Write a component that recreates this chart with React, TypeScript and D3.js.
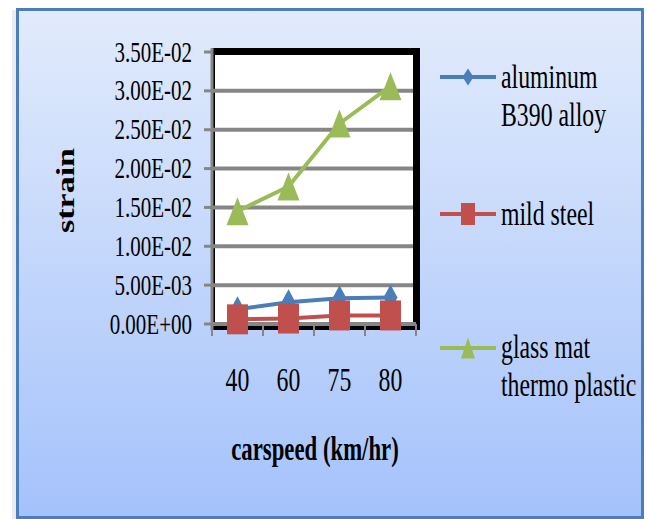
import React from "react";
import * as d3 from "d3";

// Strain measured at each car speed, per bumper material
const categories = ["40", "60", "75", "80"];
const aluminum = [0.0019, 0.0028, 0.0033, 0.0034];
const mildSteel = [0.0006, 0.0007, 0.0011, 0.0011];
const glassMat = [0.0145, 0.0177, 0.0258, 0.0306];
const yTicks = [0, 0.005, 0.01, 0.015, 0.02, 0.025, 0.03, 0.035];

const seriesNames = [["aluminum", "B390 alloy"], ["mild steel"], ["glass mat", "thermo plastic"]];
const xTitle = "carspeed (km/hr)";
const yTitle = "strain";

const BLUE = "#4a7ebb";
const RED = "#c0504d";
const GREEN = "#9bbb59";
const GRID = "#868686";
const FONT = "'Liberation Serif', 'Times New Roman', serif";

const W = 647;
const H = 519;

const fmtExp = (v: number) => {
  const [m, e] = v.toExponential(2).split("e");
  const n = parseInt(e, 10);
  const sign = n < 0 ? "-" : "+";
  return `${m}E${sign}${String(Math.abs(n)).padStart(2, "0")}`;
};

type MarkerKind = "diamond" | "square" | "triangle";

function markerPath(kind: MarkerKind, cx: number, cy: number, w: number, h: number) {
  const hw = w / 2;
  const hh = h / 2;
  if (kind === "diamond") {
    return `M${cx},${cy - hh}L${cx + hw},${cy}L${cx},${cy + hh}L${cx - hw},${cy}Z`;
  }
  if (kind === "square") {
    return `M${cx - hw},${cy - hh}H${cx + hw}V${cy + hh}H${cx - hw}Z`;
  }
  return `M${cx},${cy - hh}L${cx + hw},${cy + hh}L${cx - hw},${cy + hh}Z`;
}

function SText(props: {
  x: number;
  y: number;
  size: number;
  sx?: number;
  anchor?: "start" | "middle" | "end";
  weight?: string | number;
  children: React.ReactNode;
}) {
  const { x, y, size, sx = 0.7, anchor = "start", weight = "normal", children } = props;
  return (
    <text
      transform={`translate(${x},${y}) scale(${sx},1)`}
      fontFamily={FONT}
      fontSize={size}
      fontWeight={weight}
      textAnchor={anchor}
      fill="#000"
    >
      {children}
    </text>
  );
}

export default function App() {
  const plotL = 212;
  const plotR = 416;
  const plotTop = 52;
  const plotBottom = 324;

  const x = d3.scaleBand<string>().domain(categories).range([plotL, plotR]).padding(0);
  const y = d3.scaleLinear().domain([0, 0.035]).range([plotBottom, plotTop]);
  const cx = (c: string) => (x(c) as number) + x.bandwidth() / 2;

  const line = d3
    .line<number>()
    .x((_, i) => cx(categories[i]))
    .y((d) => y(d));

  const series: { values: number[]; color: string; kind: MarkerKind; mw: number; mh: number }[] = [
    { values: aluminum, color: BLUE, kind: "diamond", mw: 14, mh: 26 },
    { values: mildSteel, color: RED, kind: "square", mw: 21, mh: 30 },
    { values: glassMat, color: GREEN, kind: "triangle", mw: 22, mh: 28 },
  ];

  const edges = [...categories.map((c) => x(c) as number), plotR];

  const legendItems = [
    { y: 77, color: BLUE, kind: "diamond" as MarkerKind, mw: 11, mh: 17, lines: seriesNames[0], base: 88 },
    { y: 214, color: RED, kind: "square" as MarkerKind, mw: 14, mh: 22, lines: seriesNames[1], base: 225 },
    { y: 348, color: GREEN, kind: "triangle" as MarkerKind, mw: 14, mh: 21, lines: seriesNames[2], base: 358 },
  ];

  return (
    <svg
      width={W}
      height={H}
      style={{ position: "absolute", left: 0, top: 0, display: "block" }}
    >
      <defs>
        <linearGradient id="bg" x1="0" y1="0" x2="0" y2="1">
          <stop offset="0%" stopColor="#e2ebfc" />
          <stop offset="100%" stopColor="#a4c2fb" />
        </linearGradient>
      </defs>
      <rect x={0} y={0} width={W} height={H} fill="#ffffff" />
      <rect x={12} y={10} width={4} height={509} fill="#ececec" />
      <rect x={17.5} y={9.5} width={625} height={508} fill="url(#bg)" stroke={BLUE} strokeWidth={3} />

      {/* plot frame */}
      <rect x={plotL - 1} y={48} width={209} height={282} fill="#000" />
      <rect x={plotL + 3} y={55} width={198} height={271} fill="#fff" />

      {/* gridlines */}
      {yTicks.slice(1, -1).map((t) => (
        <line key={t} x1={plotL} x2={413} y1={y(t)} y2={y(t)} stroke={GRID} strokeWidth={4} />
      ))}

      {/* y axis */}
      <line x1={plotL} x2={plotL} y1={48} y2={330} stroke={GRID} strokeWidth={3} />
      {yTicks.map((t) => (
        <g key={t}>
          <line x1={204} x2={plotL} y1={y(t)} y2={y(t)} stroke={GRID} strokeWidth={3} />
          <SText x={192} y={y(t) + 9.5} size={30} sx={0.7} anchor="end">
            {fmtExp(t)}
          </SText>
        </g>
      ))}

      {/* x axis */}
      <line x1={plotL} x2={plotR} y1={plotBottom} y2={plotBottom} stroke={GRID} strokeWidth={4} />
      {edges.map((e, i) => (
        <line key={i} x1={e} x2={e} y1={plotBottom} y2={336} stroke={GRID} strokeWidth={2} />
      ))}
      {categories.map((c) => (
        <SText key={c} x={cx(c)} y={391} size={34} sx={0.7} anchor="middle">
          {c}
        </SText>
      ))}

      {/* series */}
      {series.map((s, si) => (
        <g key={si}>
          <path d={line(s.values) || ""} fill="none" stroke={s.color} strokeWidth={4} strokeLinejoin="round" />
          {s.values.map((v, i) => (
            <path key={i} d={markerPath(s.kind, cx(categories[i]), y(v), s.mw, s.mh)} fill={s.color} />
          ))}
        </g>
      ))}

      {/* axis titles */}
      <SText x={315} y={460} size={34} sx={0.67} anchor="middle" weight="bold">
        {xTitle}
      </SText>
      <text
        transform={`translate(74,190.5) rotate(-90) scale(1,0.72)`}
        fontFamily={FONT}
        fontSize={34}
        fontWeight="bold"
        textAnchor="middle"
        fill="#000"
      >
        {yTitle}
      </text>

      {/* legend */}
      {legendItems.map((it, i) => (
        <g key={i}>
          <line x1={440} x2={496} y1={it.y} y2={it.y} stroke={it.color} strokeWidth={4} />
          <path d={markerPath(it.kind, 468, it.y, it.mw, it.mh)} fill={it.color} />
          {it.lines.map((t, j) => (
            <SText key={j} x={501} y={it.base + j * 38} size={34} sx={0.7}>
              {t}
            </SText>
          ))}
        </g>
      ))}
    </svg>
  );
}
